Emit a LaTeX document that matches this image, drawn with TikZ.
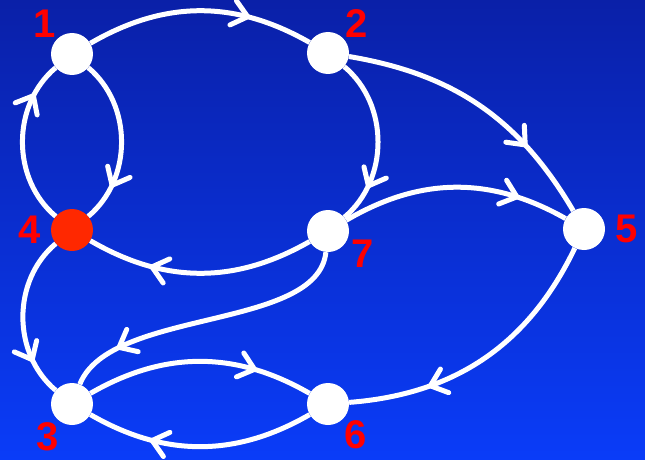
\documentclass[tikz,border=0pt]{standalone}
\usepackage{fontspec}
\setmainfont{Liberation Sans}
\usetikzlibrary{arrows.meta, decorations.markings, positioning}
\definecolor{bgtop}{RGB}{10,32,168}
\definecolor{bgbot}{RGB}{10,60,248}
\definecolor{hot}{RGB}{255,40,0}

\begin{document}
\begin{tikzpicture}[x=1pt,y=1pt,
  vertex/.style={circle,fill=white,minimum size=42pt,inner sep=0pt},
  lbl/.style={text=red,font=\fontsize{40}{40}\selectfont\bfseries,inner sep=0pt},
  link/.style={white,line width=5pt,postaction={decorate},
    decoration={markings,mark=at position #1 with {\arrow{Straight Barb[length=15pt,width=25pt,round]}}}},
  link/.default=0.75]
\shade[top color=bgtop,bottom color=bgbot] (0,0) rectangle (645,459);
\useasboundingbox (0,0) rectangle (645,459);

% vertices
\node[vertex,label={[lbl,label distance=2pt]135:1}] (n1) at (72,405) {};
\node[vertex,label={[lbl,label distance=2pt]40:2}] (n2) at (328,406) {};
\node[vertex,fill=hot,label={[lbl,label distance=10pt]180:4}] (n4) at (72,229) {};
\node[vertex,label={[lbl,label distance=4pt]-20:7}] (n7) at (328,228) {};
\node[vertex,label={[lbl,label distance=10pt]0:5}] (n5) at (584,230) {};
\node[vertex,label={[lbl,label distance=1pt]-125:3}] (n3) at (72,55) {};
\node[vertex,label={[lbl,label distance=2pt]-45:6}] (n6) at (328,55) {};

% arcs
\draw[link=0.72] (n1) to[bend left=30] (n2);
\draw[link=0.78] (n2) to[bend left=50] (n7);
\draw[link=0.72] (n2) to[bend left=25] (n5);
\draw[link=0.78] (n7) to[bend left=30] (n5);
\draw[link=0.72] (n7) to[bend left=30] (n4);
\draw[link=0.78] (n1) to[bend left=50] (n4);
\draw[link=0.8] (n4) to[bend left=50] (n1);
\draw[link=0.78] (n4) to[bend right=50] (n3);
\draw[link=0.82] (n7) .. controls +(-10,-100) and +(38,96) .. (n3);
\draw[link] (n3) to[bend left=30] (n6);
\draw[link=0.72] (n6) to[bend left=30] (n3);
\draw[link=0.72] (n5) to[bend left=30] (n6);
\end{tikzpicture}
\end{document}
